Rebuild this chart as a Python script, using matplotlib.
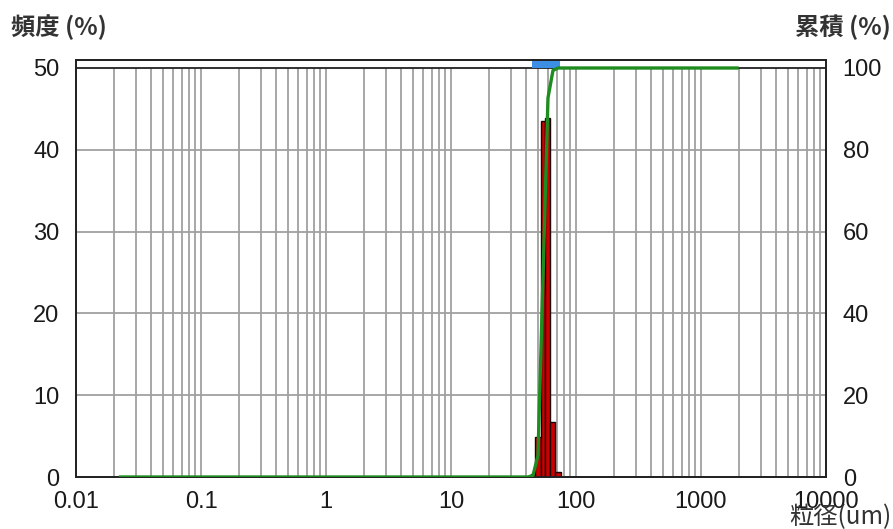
import numpy as np
import matplotlib
matplotlib.use('Agg')
import matplotlib.pyplot as plt

# ---- data ----
bin_edges = [39.5, 43.3, 47.4, 52.0, 57.0, 62.5, 68.5, 75.2]   # particle size bin edges (um)
freq = [0.0, 0.4, 4.9, 43.5, 43.9, 6.7, 0.6]                   # frequency (%)
meas_range = [0.022, 2000]                                    # measuring range (um)
marker_range = [44.6, 74.2]                                   # blue range marker (um)
x_ticks = [0.01, 0.1, 1, 10, 100, 1000, 10000]
x_tick_labels = ['0.01', '0.1', '1', '10', '100', '1000', '10000']
freq_ticks = [0, 10, 20, 30, 40, 50]
cum_ticks = [0, 20, 40, 60, 80, 100]

CJK = ['Noto Sans CJK JP', 'DejaVu Sans']
NUM = ['Liberation Sans', 'DejaVu Sans']

fig = plt.figure(figsize=(8.93, 5.29), dpi=100)
ax = fig.add_axes([76 / 893, 52 / 529, 750 / 893, 417 / 529])
ytop = 50 * 417 / 409
ax.set_xscale('log')
ax.set_xlim(x_ticks[0], x_ticks[-1])
ax.set_ylim(0, ytop)

# grid lines
grid_x = [m * 10.0 ** e for e in range(-2, 4) for m in range(1, 10)][1:]
ax.vlines(grid_x, 0, freq_ticks[-1], colors='#a0a0a0', lw=1.3, zorder=1)
ax.hlines(freq_ticks[1:-1], x_ticks[0], x_ticks[-1], colors='#a0a0a0', lw=1.3, zorder=1)
ax.hlines([freq_ticks[-1]], x_ticks[0], x_ticks[-1], colors='#222222', lw=1.3, zorder=2)

# blue range marker in top band
ax.fill_between(marker_range, [freq_ticks[-1]] * 2, [ytop] * 2, color='#3d8fe6', lw=0, zorder=2)

# frequency bars
edges = np.array(bin_edges)
ax.bar(edges[:-1], freq, width=np.diff(edges), align='edge', color='#cc0000',
       edgecolor='#1a0000', lw=1.0, zorder=3)

ax.set_xticks(x_ticks)
ax.set_xticklabels(x_tick_labels)
ax.xaxis.set_minor_locator(matplotlib.ticker.NullLocator())
ax.set_yticks(freq_ticks)
ax.tick_params(axis='both', length=0, labelsize=17, colors='#1a1a1a')
ax.tick_params(axis='x', pad=10)
ax.tick_params(axis='y', pad=12)
for lab in ax.get_xticklabels() + ax.get_yticklabels():
    lab.set_family(NUM)
for s in ax.spines.values():
    s.set_color('#222222')
    s.set_linewidth(1.3)

# cumulative curve
ax2 = ax.twinx()
ax2.set_ylim(0, 100 * ytop / 50)
centers = np.sqrt(edges[:-1] * edges[1:])
cum = np.cumsum(freq)
cum = cum / cum[-1] * 100
cx = np.concatenate([[meas_range[0]], centers, [meas_range[1]]])
cy = np.concatenate([[0], cum, [100]])
ax2.plot(cx, cy, color='#1e8c1e', lw=2.4, zorder=4, solid_capstyle='butt')
ax2.set_yticks(cum_ticks)
ax2.tick_params(axis='y', length=0, labelsize=17, colors='#1a1a1a', pad=12)
for lab in ax2.get_yticklabels():
    lab.set_family(NUM)
for s in ax2.spines.values():
    s.set_color('#222222')
    s.set_linewidth(1.3)

fig.text(11 / 893, 1 - 27 / 529, '頻度 (%)', ha='left', va='center', fontsize=17.5,
         family=CJK, color='#333333', fontweight='bold')
fig.text(891 / 893, 1 - 27 / 529, '累積 (%)', ha='right', va='center', fontsize=17.5,
         family=CJK, color='#333333', fontweight='bold')
fig.text(891 / 893, 1 - 517 / 529, '粒径(um)', ha='right', va='center', fontsize=17.5,
         family=CJK, color='#333333')

fig.savefig('out.png', dpi=100)
